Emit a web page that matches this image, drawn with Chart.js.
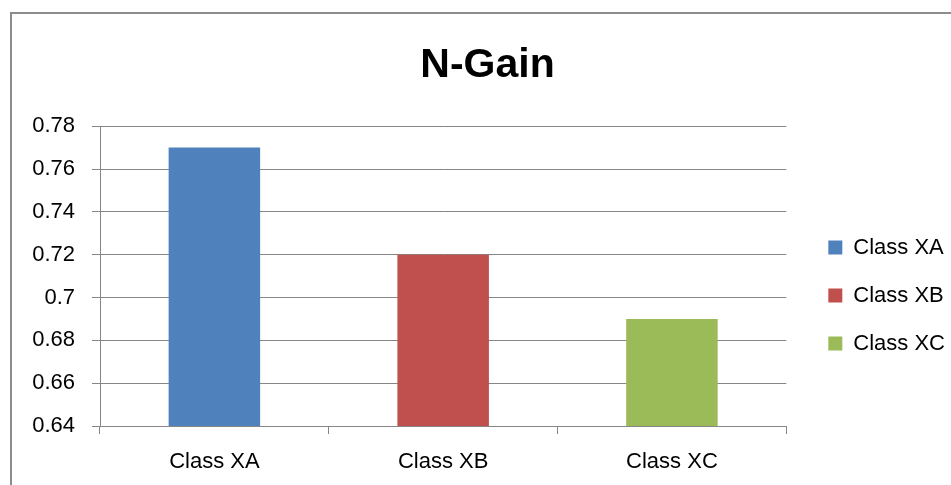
<!DOCTYPE html>
<html>
<head>
<meta charset="utf-8">
<script src="https://cdn.jsdelivr.net/npm/chart.js@4"></script>
<style>
  html, body { margin: 0; padding: 0; background: #fff; }
  #wrap { width: 951px; height: 485px; }
</style>
</head>
<body>
<div id="wrap"><canvas id="myChart"></canvas></div>
<script>
const categories = ['Class XA', 'Class XB', 'Class XC'];
const nGain = [0.77, 0.72, 0.69];
const barColors = ['#4F81BD', '#C0504D', '#9BBB59'];
const yTicks = [0.64, 0.66, 0.68, 0.7, 0.72, 0.74, 0.76, 0.78];

const font = "'Liberation Sans', Arial, sans-serif";
Chart.defaults.font.family = font;
Chart.defaults.color = '#000';

// grey frame round the chart (only top and left show in the picture)
const frame = {
  id: 'frame',
  beforeDraw(chart) {
    const c = chart.ctx;
    c.save();
    c.strokeStyle = '#8c8c8c';
    c.lineWidth = 2;
    c.beginPath();
    c.moveTo(11, chart.height);
    c.lineTo(11, 13);
    c.lineTo(chart.width, 13);
    c.stroke();
    c.restore();
  }
};

// nudge the legend block and title like the excel original
const nudge = {
  id: 'nudge',
  afterLayout(chart) {
    const lg = chart.legend;
    lg.left += 16; lg.right += 16;
    lg.top += 53; lg.bottom += 53;
    const t = chart.titleBlock;
    t.left += 6; t.right += 6;
  }
};

const ctx = document.getElementById('myChart');

new Chart(ctx, {
  type: 'bar',
  data: {
    labels: categories,
    datasets: [{
      label: 'N-Gain',
      data: nGain,
      backgroundColor: barColors,
      barPercentage: 0.4,
      categoryPercentage: 1
    }]
  },
  options: {
    responsive: true,
    maintainAspectRatio: false,
    animation: false,
    layout: { padding: { left: 24, right: 12, top: 0, bottom: 0 } },
    scales: {
      y: {
        min: 0.64,
        max: 0.78,
        afterBuildTicks(scale) {
          scale.ticks = yTicks.map(v => ({ value: v }));
        },
        afterFit(scale) { scale.width = 76; },
        ticks: {
          padding: 17,
          font: { size: 22 },
          callback: v => String(Math.round(v * 100) / 100)
        },
        grid: { color: '#868686', tickLength: 8, lineWidth: 1 },
        border: { color: '#868686' }
      },
      x: {
        afterFit(scale) { scale.height = 59; },
        ticks: { padding: 15, font: { size: 22 } },
        grid: { offset: true, drawOnChartArea: false, color: '#868686', tickLength: 8 },
        border: { color: '#868686' }
      }
    },
    plugins: {
      title: {
        display: true,
        text: 'N-Gain',
        font: { size: 41, weight: 'bold' },
        color: '#000',
        padding: { top: 41, bottom: 36 }
      },
      legend: {
        position: 'right',
        labels: {
          boxWidth: 14,
          boxHeight: 14,
          padding: 26,
          font: { size: 22 },
          generateLabels: () => categories.map((c, i) => ({
            text: c,
            fillStyle: barColors[i],
            strokeStyle: barColors[i],
            lineWidth: 0,
            index: i
          }))
        }
      },
      tooltip: { enabled: false }
    }
  },
  plugins: [frame, nudge]
});
</script>
</body>
</html>
